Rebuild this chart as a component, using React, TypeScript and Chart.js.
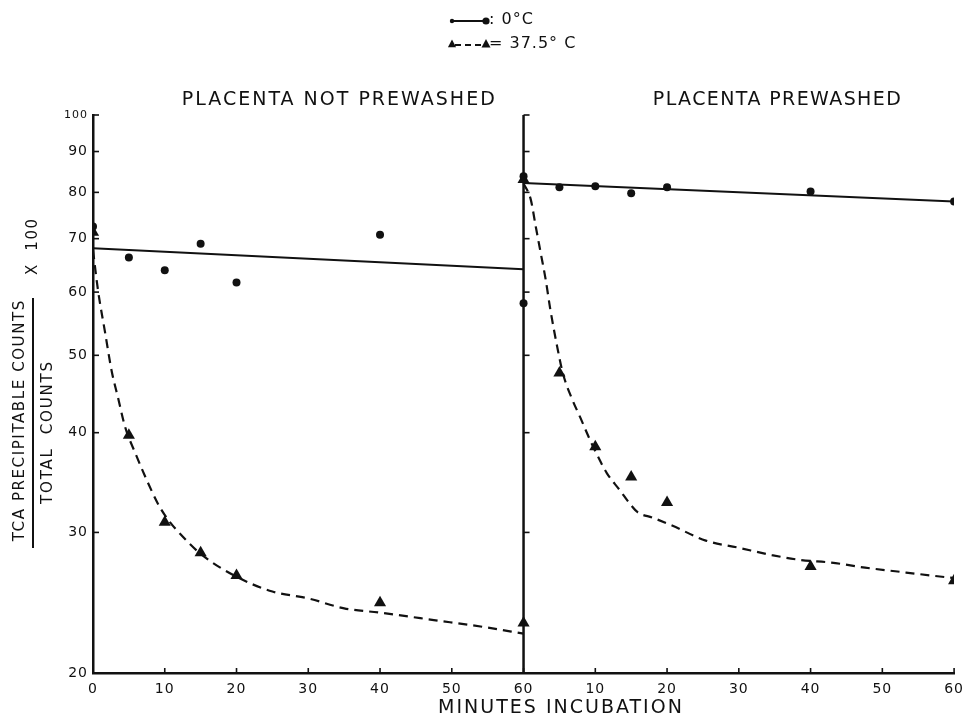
import React, { useEffect, useRef } from 'react';
import { Chart, registerables } from 'chart.js';

Chart.register(...registerables);

const FONT = '"DejaVu Sans", "Liberation Sans", sans-serif';
const INK = '#111111';

// ---- data (minutes of incubation, TCA precipitable counts / total counts x 100) ----
const minutes = [0, 5, 10, 15, 20, 40, 60];

const notPrewashedCold = [72.5, 66.3, 63.9, 69.0, 61.7, 70.8, 58.1];
const notPrewashedWarm = [71.3, 39.7, 30.9, 28.3, 26.5, 24.5, 23.1];
const prewashedCold = [83.8, 81.2, 81.4, 79.8, 81.2, 80.2, 77.9];
const prewashedWarm = [83.0, 47.5, 38.4, 35.2, 32.7, 27.2, 26.1];

// fitted lines drawn on the original figure
const coldFitMinutes = [0, 60];
const notPrewashedColdFit = [68.1, 64.1];
const prewashedColdFit = [82.2, 77.9];

const notPrewashedWarmCurveMinutes = [0, 0.7, 1.7, 2.6, 3.5, 4.5, 5.9, 7.3, 9.2, 10.6, 12.1, 15, 20, 25, 30, 35, 40, 47.5, 55, 60];
const notPrewashedWarmCurve = [67.7, 60.3, 53.3, 47.8, 44.2, 40.6, 37.7, 35.2, 32.4, 31.0, 29.9, 28.2, 26.4, 25.3, 24.8, 24.1, 23.8, 23.3, 22.8, 22.4];

const prewashedWarmCurveMinutes = [0, 1, 1.7, 2.4, 3.1, 3.7, 4.7, 5.5, 6.8, 7.9, 9.3, 10.2, 11.6, 13.4, 14.8, 15.9, 18, 20.7, 25.4, 30, 34.6, 38.7, 42.9, 47.6, 52.1, 56.7, 60];
const prewashedWarmCurve = [82.1, 78.4, 72.5, 67.1, 62.1, 57.3, 51.2, 47.4, 44.0, 41.8, 39.1, 37.6, 35.6, 33.9, 32.6, 31.8, 31.3, 30.6, 29.3, 28.7, 28.1, 27.7, 27.5, 27.1, 26.8, 26.5, 26.3];

// axes
const yTicks = [20, 30, 40, 50, 60, 70, 80, 90, 100];
const xTicks = [0, 10, 20, 30, 40, 50, 60, 70, 80, 90, 100, 110, 120];
const xTickLabels = ['0', '10', '20', '30', '40', '50', '60', '10', '20', '30', '40', '50', '60'];
const panelOffset = 60; // the second panel starts where the first ends

const panelTitles = ['PLACENTA NOT PREWASHED', 'PLACENTA PREWASHED'];
const legendLabels = [': 0°C', '= 37.5° C'];
const xTitle = 'MINUTES INCUBATION';
const yTitleTop = 'TCA PRECIPITABLE COUNTS';
const yTitleBottom = 'TOTAL  COUNTS';
const yTitleFactor = 'X  100';

const pts = (xs: number[], ys: number[], off = 0) => xs.map((x, i) => ({ x: x + off, y: ys[i] }));

function spaced(ctx: CanvasRenderingContext2D, text: string, x: number, y: number, font: string, ls: number) {
  ctx.font = font;
  (ctx as any).letterSpacing = ls + 'px';
  ctx.textAlign = 'center';
  ctx.textBaseline = 'middle';
  ctx.fillText(text, x + ls / 2, y);
}

const decor = {
  id: 'decor',
  beforeDraw(chart: any) {
    chart.ctx.letterSpacing = '1px';
  },
  afterDraw(chart: any) {
    const { ctx, chartArea, scales } = chart;
    const xs = scales.x;
    const ys = scales.y;
    ctx.save();
    ctx.strokeStyle = INK;
    ctx.fillStyle = INK;
    const line = (x1: number, y1: number, x2: number, y2: number, w = 2) => {
      ctx.lineWidth = w;
      ctx.beginPath();
      ctx.moveTo(x1, y1);
      ctx.lineTo(x2, y2);
      ctx.stroke();
    };
    // panel divider
    const xd = xs.getPixelForValue(panelOffset);
    ctx.setLineDash([]);
    line(xd, chartArea.top, xd, chartArea.bottom + 1, 2.5);
    // inward ticks on both vertical axes
    for (const v of yTicks) {
      const py = ys.getPixelForValue(v);
      line(chartArea.left, py, chartArea.left + 6, py, 1.6);
      line(xd, py, xd + 6, py, 1.6);
    }
    // upward ticks on the time axis
    for (const v of xTicks) {
      const px = xs.getPixelForValue(v);
      line(px, chartArea.bottom, px, chartArea.bottom - 5, 1.6);
    }
    // panel titles
    const midL = (chartArea.left + xd) / 2;
    const midR = (xd + chartArea.right) / 2;
    spaced(ctx, panelTitles[0], midL + 30, 100, `19px ${FONT}`, 2);
    spaced(ctx, panelTitles[1], midR + 38, 100, `19px ${FONT}`, 1.4);
    // x title
    spaced(ctx, xTitle, 560, 708, `19px ${FONT}`, 2);
    // y title (fraction)
    ctx.save();
    ctx.translate(20, 421);
    ctx.rotate(-Math.PI / 2);
    spaced(ctx, yTitleTop, 0, 0, `15px ${FONT}`, 1.6);
    ctx.restore();
    ctx.save();
    ctx.translate(48, 433);
    ctx.rotate(-Math.PI / 2);
    spaced(ctx, yTitleBottom, 0, 0, `15px ${FONT}`, 1.8);
    ctx.restore();
    ctx.save();
    ctx.translate(33, 247);
    ctx.rotate(-Math.PI / 2);
    spaced(ctx, yTitleFactor, 0, 0, `15px ${FONT}`, 1.5);
    ctx.restore();
    line(33, 298, 33, 548, 2);
    // legend
    const lx1 = 452, lx2 = 486;
    line(lx1, 21, lx2, 21, 2);
    ctx.beginPath(); ctx.arc(lx1, 21, 2.2, 0, Math.PI * 2); ctx.fill();
    ctx.beginPath(); ctx.arc(lx2, 21, 3.6, 0, Math.PI * 2); ctx.fill();
    ctx.setLineDash([6, 4]);
    line(lx1 + 3, 45, lx2 - 3, 45, 2);
    ctx.setLineDash([]);
    const tri = (cx: number, cy: number, r: number) => {
      ctx.beginPath();
      ctx.moveTo(cx, cy - r);
      ctx.lineTo(cx + r * 0.9, cy + r * 0.7);
      ctx.lineTo(cx - r * 0.9, cy + r * 0.7);
      ctx.closePath();
      ctx.fill();
    };
    tri(lx1, 44, 4.5);
    tri(lx2, 44, 5);
    ctx.font = `16px ${FONT}`;
    (ctx as any).letterSpacing = '1px';
    ctx.textAlign = 'left';
    ctx.textBaseline = 'middle';
    ctx.fillText(legendLabels[0], lx2 + 3, 20);
    ctx.fillText(legendLabels[1], lx2 + 3, 44);
    ctx.restore();
  },
};

export default function App() {
  const ref = useRef<HTMLCanvasElement>(null);
  useEffect(() => {
    document.body.style.margin = '0';
    document.body.style.overflow = 'hidden';
    const canvas = ref.current!;
    const markerCircle = { pointStyle: 'circle', pointRadius: 4, backgroundColor: INK, borderColor: INK, borderWidth: 0, showLine: false };
    const markerTri = { pointStyle: 'triangle', pointRadius: 7, backgroundColor: INK, borderColor: INK, borderWidth: 0, showLine: false };
    const solid = { showLine: true, pointRadius: 0, borderColor: INK, borderWidth: 2, fill: false };
    const dashed = { showLine: true, pointRadius: 0, borderColor: INK, borderWidth: 2.2, borderDash: [9, 6], fill: false, cubicInterpolationMode: 'monotone' };
    const chart = new Chart(canvas, {
      type: 'scatter',
      data: {
        datasets: [
          { label: 'not prewashed 0°C fit', data: pts(coldFitMinutes, notPrewashedColdFit), ...solid },
          { label: 'not prewashed 37.5°C curve', data: pts(notPrewashedWarmCurveMinutes, notPrewashedWarmCurve), ...dashed },
          { label: 'prewashed 0°C fit', data: pts(coldFitMinutes, prewashedColdFit, panelOffset), ...solid },
          { label: 'prewashed 37.5°C curve', data: pts(prewashedWarmCurveMinutes, prewashedWarmCurve, panelOffset), ...dashed },
          { label: 'not prewashed 0°C', data: pts(minutes, notPrewashedCold), ...markerCircle },
          { label: 'not prewashed 37.5°C', data: pts(minutes, notPrewashedWarm), ...markerTri },
          { label: 'prewashed 0°C', data: pts(minutes, prewashedCold, panelOffset), ...markerCircle },
          { label: 'prewashed 37.5°C', data: pts(minutes, prewashedWarm, panelOffset), ...markerTri },
        ] as any,
      },
      options: {
        responsive: false,
        animation: false,
        devicePixelRatio: 1,
        layout: { padding: { top: 115, right: 14, left: 0, bottom: 0 } },
        plugins: { legend: { display: false }, tooltip: { enabled: false }, title: { display: false } },
        scales: {
          x: {
            type: 'linear',
            min: 0,
            max: 120,
            afterBuildTicks: (s: any) => { s.ticks = xTicks.map((v) => ({ value: v })); },
            afterFit: (s: any) => { s.height = 48; },
            grid: { display: false, drawTicks: false },
            border: { display: true, color: INK, width: 2.5 },
            ticks: {
              color: INK,
              padding: 8,
              maxRotation: 0,
              autoSkip: false,
              font: { family: FONT, size: 14 },
              callback: (_v: any, i: number) => xTickLabels[i],
            },
          },
          y: {
            type: 'logarithmic',
            min: 20,
            max: 100,
            afterBuildTicks: (s: any) => { s.ticks = yTicks.map((v) => ({ value: v })); },
            afterFit: (s: any) => { s.width = 93; },
            grid: { display: false, drawTicks: false },
            border: { display: true, color: INK, width: 2.5 },
            ticks: {
              color: INK,
              padding: 5,
              autoSkip: false,
              font: (c: any) => ({ family: FONT, size: c.tick && c.tick.value === 100 ? 11 : 14 }),
              callback: (v: any) => String(v),
            },
          },
        },
      } as any,
      plugins: [decor as any],
    });
    return () => chart.destroy();
  }, []);
  return (
    <div style={{ width: 971, height: 721, position: 'relative', background: '#fff' }}>
      <canvas ref={ref} width={971} height={721} style={{ display: 'block' }} />
    </div>
  );
}
